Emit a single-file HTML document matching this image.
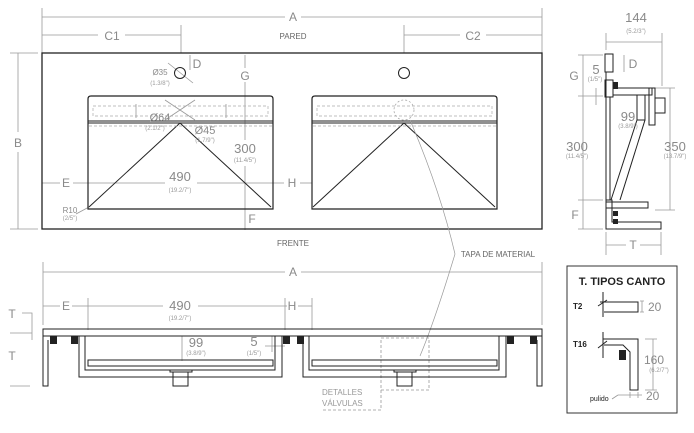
<!DOCTYPE html>
<html><head><meta charset="utf-8"><style>
html,body{margin:0;padding:0;background:#fff;width:694px;height:433px;overflow:hidden}
svg{display:block;font-family:"Liberation Sans",sans-serif}
.g{fill:#8a8a8a}
.s{fill:#9a9a9a;font-size:6px}
</style></head><body>
<svg width="694" height="433" viewBox="0 0 694 433" xmlns="http://www.w3.org/2000/svg">
<g stroke="#999" stroke-width="0.8" fill="none">
<line x1="42" y1="8" x2="42" y2="53"/><line x1="542" y1="8" x2="542" y2="53"/>
<line x1="42" y1="17" x2="285" y2="17"/><line x1="301" y1="17" x2="542" y2="17"/>
<line x1="42" y1="35" x2="98" y2="35"/><line x1="125" y1="35" x2="181" y2="35"/>
<line x1="181" y1="25" x2="181" y2="53"/>
<line x1="404" y1="25" x2="404" y2="53"/>
<line x1="404" y1="35" x2="460" y2="35"/><line x1="486" y1="35" x2="542" y2="35"/>
<line x1="10" y1="53" x2="38" y2="53"/><line x1="10" y1="229" x2="38" y2="229"/>
<line x1="18" y1="53" x2="18" y2="132"/><line x1="18" y1="152" x2="18" y2="229"/>
<line x1="245" y1="55" x2="245" y2="68"/><line x1="245" y1="82" x2="245" y2="140"/><line x1="245" y1="166" x2="245" y2="230"/>
<line x1="42" y1="183" x2="60" y2="183"/><line x1="73" y1="183" x2="165" y2="183"/><line x1="197" y1="183" x2="284" y2="183"/><line x1="300" y1="183" x2="312" y2="183"/>
<line x1="88" y1="176" x2="88" y2="190"/>
<line x1="190" y1="55" x2="190" y2="70"/>
<line x1="168" y1="63" x2="193" y2="83"/>
<line x1="76" y1="214" x2="89" y2="207"/>
<line x1="165" y1="100" x2="195" y2="120"/><line x1="165" y1="120" x2="195" y2="100"/>
</g>
<rect x="42" y="53" width="500" height="176" fill="none" stroke="#222" stroke-width="1.3"/>
<circle cx="180" cy="73" r="5.5" fill="none" stroke="#222" stroke-width="1"/>
<circle cx="404" cy="73" r="5.5" fill="none" stroke="#222" stroke-width="1"/>
<g id="basin" fill="none" stroke="#222" stroke-width="1">
<path d="M88 209 V99 Q88 96 91 96 H270 Q273 96 273 99 V209 Z" stroke-width="1.2"/>
<line x1="88" y1="121" x2="273" y2="121"/><line x1="88" y1="123" x2="273" y2="123"/>
<line x1="89" y1="207" x2="180" y2="123"/><line x1="271" y1="207" x2="180" y2="123"/>
<line x1="89" y1="126" x2="272" y2="126" stroke="#aaa" stroke-dasharray="3,2" stroke-width="0.7"/>
<rect x="93" y="106" width="175" height="10" stroke="#aaa" stroke-dasharray="3,2" stroke-width="0.7"/>
</g>
<use href="#basin" x="224"/>
<circle cx="404" cy="110" r="10" fill="none" stroke="#aaa" stroke-dasharray="2,2" stroke-width="0.8"/>
<path d="M136 104 v14 M226 104 v14" stroke="#999" stroke-width="0.8"/>
<g class="g" font-size="12" text-anchor="middle">
<text x="293" y="21">A</text><text x="112" y="40">C1</text><text x="473" y="40">C2</text>
<text x="18" y="147">B</text><text x="245" y="80">G</text><text x="252" y="223">F</text>
<text x="66" y="187">E</text><text x="292" y="187">H</text>
<text x="197" y="68">D</text>
<text x="180" y="181" font-size="13">490</text><text x="245" y="153" font-size="13">300</text>
<text x="160" y="121" font-size="11">Ø64</text><text x="205" y="134" font-size="11">Ø45</text>
<text x="160" y="75" font-size="8">Ø35</text><text x="70" y="213" font-size="8">R10</text>
</g>
<g class="s" text-anchor="middle">
<text x="160" y="85">(1.3/8")</text><text x="180" y="192">(19.2/7")</text><text x="245" y="162">(11.4/5")</text>
<text x="70" y="220">(2/5")</text><text x="155" y="130">(2.1/2")</text><text x="205" y="142">(1.7/9")</text>
</g>
<g fill="#666" font-size="8" text-anchor="middle"><text x="293" y="39">PARED</text><text x="293" y="246">FRENTE</text>
<text x="498" y="257">TAPA DE MATERIAL</text></g>
<path d="M455 254 Q440 190 410 120" fill="none" stroke="#999" stroke-width="0.7"/>
<path d="M455 254 Q435 320 420 356" fill="none" stroke="#999" stroke-width="0.7"/>

<g stroke="#999" stroke-width="0.8" fill="none">
<line x1="606" y1="33" x2="606" y2="50"/><line x1="662" y1="33" x2="662" y2="86"/>
<line x1="606" y1="42" x2="662" y2="42"/>
<line x1="583" y1="55" x2="583" y2="229"/><line x1="578" y1="55" x2="603" y2="55"/><line x1="578" y1="229" x2="603" y2="229"/>
<line x1="578" y1="96" x2="603" y2="96"/><line x1="578" y1="200" x2="603" y2="200"/>
<line x1="596" y1="88" x2="596" y2="105"/>
<line x1="624" y1="55" x2="624" y2="72"/>
<line x1="670" y1="88" x2="670" y2="210"/><line x1="655" y1="88" x2="675" y2="88"/><line x1="655" y1="210" x2="675" y2="210"/>
<line x1="606" y1="232" x2="606" y2="255"/><line x1="661" y1="232" x2="661" y2="255"/>
<line x1="606" y1="245" x2="626" y2="245"/><line x1="640" y1="245" x2="661" y2="245"/>
</g>
<g fill="none" stroke="#222" stroke-width="1">
<rect x="605" y="54" width="8" height="18"/>
<line x1="606" y1="72" x2="606" y2="229"/><line x1="610" y1="97" x2="610" y2="200"/>
<rect x="605" y="80" width="8" height="17"/>
<rect x="613" y="88" width="39" height="7"/>
<rect x="649" y="88" width="6" height="37"/>
<rect x="655" y="98" width="10" height="15"/>
<rect x="637" y="95" width="8" height="25"/>
<line x1="637" y1="120" x2="611" y2="200"/><line x1="645" y1="120" x2="620" y2="200"/>
<rect x="606" y="202" width="42" height="6"/>
<path d="M606 200 H612 V222 H661 V229 H606 Z"/>
</g>
<rect x="613" y="82" width="5" height="7" fill="#222"/>
<rect x="613" y="211" width="5" height="5" fill="#222"/><rect x="613" y="219" width="5" height="5" fill="#222"/>
<g class="g" font-size="12" text-anchor="middle">
<text x="636" y="22" font-size="13">144</text><text x="574" y="80">G</text><text x="596" y="74" font-size="13">5</text>
<text x="633" y="68">D</text><text x="628" y="121" font-size="13">99</text>
<text x="577" y="151" font-size="13">300</text><text x="675" y="151" font-size="13">350</text>
<text x="575" y="219">F</text><text x="633" y="249">T</text>
</g>
<g class="s" text-anchor="middle">
<text x="636" y="33">(5.2/3")</text><text x="595" y="81">(1/5")</text><text x="628" y="128">(3.8/9")</text>
<text x="577" y="158">(11.4/5")</text><text x="675" y="158">(13.7/9")</text>
</g>

<g stroke="#999" stroke-width="0.8" fill="none">
<line x1="43" y1="262" x2="43" y2="325"/><line x1="542" y1="262" x2="542" y2="325"/>
<line x1="43" y1="272" x2="285" y2="272"/><line x1="301" y1="272" x2="542" y2="272"/>
<line x1="43" y1="306" x2="60" y2="306"/><line x1="72" y1="306" x2="88" y2="306"/>
<line x1="88" y1="298" x2="88" y2="330"/><line x1="88" y1="306" x2="163" y2="306"/><line x1="198" y1="306" x2="285" y2="306"/>
<line x1="285" y1="298" x2="285" y2="330"/><line x1="285" y1="306" x2="287" y2="306"/><line x1="298" y1="306" x2="312" y2="306"/><line x1="312" y1="298" x2="312" y2="330"/>
<path d="M20 333 H32 V313 H22 M10 386 H30 M32 333 V340 M10 333 H32"/>
<line x1="182" y1="336" x2="182" y2="361"/>
<line x1="265" y1="346" x2="285" y2="346"/><line x1="272" y1="336" x2="272" y2="352"/>
<rect x="381" y="338" width="48" height="52" stroke-dasharray="3,2"/>
<path d="M381 390 V410 H322" stroke-dasharray="3,2"/>
</g>
<g fill="none" stroke="#222" stroke-width="1">
<rect x="43" y="329" width="499" height="7"/>
<path d="M43 336 V386 H48 V340"/><path d="M542 336 V386 H537 V340"/>
</g>
<g id="bb" fill="none" stroke="#222" stroke-width="1">
<rect x="79" y="336" width="203" height="41"/>
<rect x="85" y="336" width="190" height="34"/>
<rect x="88" y="360" width="185" height="6"/>
<rect x="170" y="370" width="22" height="2"/>
<rect x="173" y="372" width="15" height="14"/>
</g>
<use href="#bb" x="224"/>
<g fill="#222">
<rect x="50" y="336" width="7" height="8"/><rect x="71" y="336" width="7" height="8"/>
<rect x="283" y="336" width="7" height="8"/><rect x="297" y="336" width="7" height="8"/>
<rect x="507" y="336" width="7" height="8"/><rect x="530" y="336" width="7" height="8"/>
</g>
<g class="g" font-size="12" text-anchor="middle">
<text x="293" y="276">A</text><text x="66" y="310">E</text><text x="292" y="310">H</text>
<text x="180" y="310" font-size="13">490</text><text x="196" y="347" font-size="13">99</text><text x="254" y="346" font-size="13">5</text>
<text x="12" y="318">T</text><text x="12" y="360">T</text>
</g>
<g class="s" text-anchor="middle"><text x="180" y="320">(19.2/7")</text><text x="196" y="355">(3.8/9")</text><text x="254" y="355">(1/5")</text></g>
<g fill="#999" font-size="8"><text x="322" y="395">DETALLES</text><text x="322" y="406">VÁLVULAS</text></g>

<rect x="567" y="266" width="110" height="147" fill="none" stroke="#333" stroke-width="1"/>
<text x="622" y="285" text-anchor="middle" font-size="11" fill="#222" font-weight="bold">T. TIPOS CANTO</text>
<text x="573" y="309" font-size="8" fill="#222" font-weight="bold">T2</text>
<text x="573" y="347" font-size="8" fill="#222" font-weight="bold">T16</text>
<g fill="none" stroke="#222" stroke-width="1">
<path d="M603 292 V317 M598 306 L607 300 M600 302 H638 V312 H604"/>
<path d="M603 332 V358 M598 348 L607 341 M603 339 H638 V390 H630 V352 L623 345 H604"/>
</g>
<rect x="619" y="350" width="7" height="10" fill="#222"/>
<g stroke="#999" stroke-width="0.8" fill="none">
<path d="M642 301 V312 M640 301 h4 M640 312 h4"/>
<path d="M653 339 V390 M645 339 h12 M645 390 h12"/>
<path d="M618 395 H642 M630 392 V398 M638 392 V398 M618 395 L612 399"/>
</g>
<g class="g" font-size="12" text-anchor="start"><text x="648" y="311">20</text><text x="644" y="364">160</text><text x="646" y="400">20</text></g>
<text x="659" y="372" class="s" text-anchor="middle">(6.2/7")</text>
<text x="590" y="401" font-size="7" fill="#222">pulido</text>
</svg>
</body></html>
